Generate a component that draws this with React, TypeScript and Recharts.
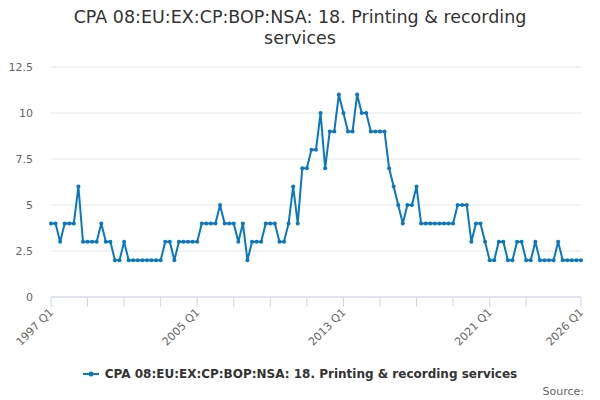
import { LineChart, Line, XAxis, YAxis, CartesianGrid } from 'recharts';

const SERIES_NAME = 'CPA 08:EU:EX:CP:BOP:NSA: 18. Printing & recording services';
const TITLE_LINES = ['CPA 08:EU:EX:CP:BOP:NSA: 18. Printing & recording', 'services'];
const START_YEAR = 1997;

const values = [
  4, 4, 3, 4, 4, 4, 6, 3, 3, 3,
  3, 4, 3, 3, 2, 2, 3, 2, 2, 2,
  2, 2, 2, 2, 2, 3, 3, 2, 3, 3,
  3, 3, 3, 4, 4, 4, 4, 5, 4, 4,
  4, 3, 4, 2, 3, 3, 3, 4, 4, 4,
  3, 3, 4, 6, 4, 7, 7, 8, 8, 10,
  7, 9, 9, 11, 10, 9, 9, 11, 10, 10,
  9, 9, 9, 9, 7, 6, 5, 4, 5, 5,
  6, 4, 4, 4, 4, 4, 4, 4, 4, 5,
  5, 5, 3, 4, 4, 3, 2, 2, 3, 3,
  2, 2, 3, 3, 2, 2, 3, 2, 2, 2,
  2, 3, 2, 2, 2, 2, 2,
];

const xTicks = [0, 8, 16, 24, 32, 40, 48, 56, 64, 72, 80, 88, 96, 104, 116];
const labelledTicks = [0, 32, 64, 96, 116];
const yTicks = [0, 2.5, 5, 7.5, 10, 12.5];

const BLUE = '#0a78bf';
const FONT = '"DejaVu Sans", sans-serif';

const quarterLabel = (i: number) => `${START_YEAR + Math.floor(i / 4)} Q${(i % 4) + 1}`;

const data = values.map((v, i) => ({ i, value: v }));

function XTick(props: any) {
  const { x, y, payload } = props;
  if (!labelledTicks.includes(payload.value)) return null;
  const tx = x + 3;
  const ty = y + 4;
  return (
    <text
      x={tx}
      y={ty}
      transform={`rotate(-45 ${tx} ${ty})`}
      textAnchor="end"
      fill="#666"
      fontSize={11}
      fontFamily={FONT}
    >
      {quarterLabel(payload.value)}
    </text>
  );
}

export default function App() {
  return (
    <div style={{ position: 'absolute', left: 0, top: 0, width: 600, height: 400, background: '#fff', fontFamily: FONT }}>
      <div
        style={{
          position: 'absolute',
          top: 7,
          left: 0,
          width: 600,
          textAlign: 'center',
          fontSize: 17.5,
          lineHeight: '21px',
          color: '#333',
        }}
      >
        {TITLE_LINES.map((t) => (
          <div key={t}>{t}</div>
        ))}
      </div>
      <LineChart width={600} height={400} data={data} margin={{ top: 67, right: 19, bottom: 73, left: 5 }}>
        <CartesianGrid vertical={false} stroke="#e6e6e6" />
        <XAxis
          dataKey="i"
          type="number"
          domain={[0, 116]}
          height={30}
          ticks={xTicks}
          interval={0}
          tick={<XTick />}
          tickSize={10}
          tickMargin={2}
          stroke="#ccd6eb"
          tickLine={{ stroke: '#ccd6eb' }}
          axisLine={{ stroke: '#ccd6eb' }}
        />
        <YAxis
          width={46}
          domain={[0, 12.5]}
          ticks={yTicks}
          interval={0}
          axisLine={false}
          tickLine={false}
          tickMargin={12}
          tick={{ fill: '#666', fontSize: 11, fontFamily: FONT }}
        />
        <Line
          type="linear"
          dataKey="value"
          name={SERIES_NAME}
          stroke={BLUE}
          strokeWidth={2}
          dot={{ r: 2, fill: BLUE, stroke: BLUE, strokeWidth: 0 }}
          isAnimationActive={false}
        />
      </LineChart>
      <div
        style={{
          position: 'absolute',
          top: 366,
          left: 0,
          width: 600,
          display: 'flex',
          justifyContent: 'center',
          alignItems: 'center',
        }}
      >
        <svg width={16} height={10} style={{ marginRight: 6 }}>
          <line x1={0} y1={5} x2={16} y2={5} stroke={BLUE} strokeWidth={2} />
          <circle cx={8} cy={5} r={2.5} fill={BLUE} />
        </svg>
        <span style={{ fontSize: 12, fontWeight: 'bold', color: '#333', lineHeight: '16px' }}>{SERIES_NAME}</span>
      </div>
      <div style={{ position: 'absolute', right: 16, top: 385, fontSize: 11, color: '#666' }}>Source:</div>
    </div>
  );
}
